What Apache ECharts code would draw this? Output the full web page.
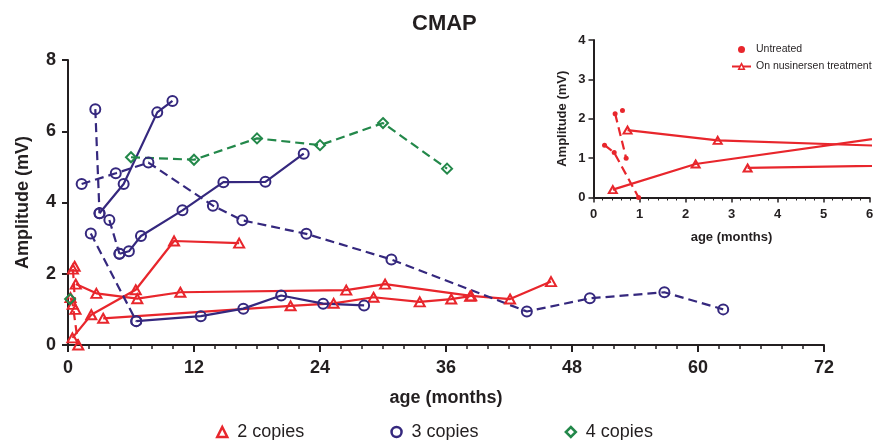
<!DOCTYPE html>
<html>
<head>
<meta charset="utf-8">
<script src="https://cdn.jsdelivr.net/npm/echarts@6/dist/echarts.min.js"></script>
<style>
html, body { margin: 0; padding: 0; background: #fff; }
#chart { width: 874px; height: 440px; }
</style>
</head>
<body>
<div id="chart"></div>
<script>
// [age (months), CMAP amplitude (mV)] - one array per patient, untreated and treated parts apart
const twoCopiesUntreated = [
  [[0.24, 1.33], [0.45, 1.14], [0.98, 0]],
  [[0.47, 2.13], [0.71, 1.0]],
  [[0.63, 2.21]]
]
const twoCopiesTreated = [
  [[0.42, 0.2], [2.22, 0.85], [6.45, 1.55], [10.1, 2.92], [16.3, 2.86]],
  [[0.74, 1.71], [2.7, 1.45], [6.6, 1.3], [10.7, 1.48], [26.5, 1.54], [30.2, 1.71], [38.4, 1.38], [42.1, 1.29], [46.0, 1.78]],
  [[3.35, 0.75], [21.2, 1.1], [25.3, 1.17], [29.1, 1.34], [33.5, 1.21], [36.5, 1.29], [38.3, 1.37]]
]
const threeCopiesUntreated = [
  [[2.6, 6.62], [3.0, 3.7]],
  [[1.3, 4.52], [4.55, 4.82], [7.66, 5.12], [13.8, 3.91], [16.6, 3.5], [22.7, 3.12], [30.8, 2.4], [43.7, 0.94], [49.7, 1.31], [56.8, 1.48], [62.4, 1.0]],
  [[2.17, 3.13], [6.5, 0.67]],
  [[3.94, 3.51], [4.9, 2.56]]
]
const threeCopiesTreated = [
  [[3.0, 3.7], [5.3, 4.52], [8.5, 6.53], [9.95, 6.85]],
  [[6.5, 0.67], [12.65, 0.81], [16.7, 1.02], [20.3, 1.39], [24.3, 1.16], [28.2, 1.11]],
  [[4.9, 2.56], [5.8, 2.63], [6.95, 3.06], [10.9, 3.78], [14.8, 4.57], [18.8, 4.58], [22.45, 5.37]]
]
const fourCopiesUntreated = [
  [[0.2, 1.29]],
  [[6.0, 5.27], [12.0, 5.2], [18.0, 5.8], [24.0, 5.61], [30.0, 6.23], [36.1, 4.95]]
]
const copyNames = ['2 copies', '3 copies', '4 copies']
const insetNames = ['Untreated', 'On nusinersen treatment']

const RED = '#e8262c'
const PURPLE = '#35287e'
const GREEN = '#23884a'
const INK = '#231f20'
const FONT = 'Liberation Sans, Arial, sans-serif'

function makeLine (name, data, color, symbol, size, dashed, idx, fill) {
  return {
    type: 'line',
    name: name,
    data: data,
    xAxisIndex: idx,
    yAxisIndex: idx,
    symbol: symbol,
    symbolSize: size,
    showSymbol: true,
    lineStyle: { color: color, width: 2.2, type: dashed ? [9, 5] : 'solid' },
    itemStyle: { color: fill || 'transparent', borderColor: color, borderWidth: fill ? 0 : 2 },
    emphasis: { disabled: true },
    z: 3
  }
}

const series = []
twoCopiesUntreated.forEach(d => series.push(makeLine(copyNames[0], d, RED, 'triangle', [10, 9], true, 0)))
twoCopiesTreated.forEach(d => series.push(makeLine(copyNames[0], d, RED, 'triangle', [10, 9], false, 0)))
threeCopiesUntreated.forEach(d => series.push(makeLine(copyNames[1], d, PURPLE, 'circle', 10, true, 0)))
threeCopiesTreated.forEach(d => series.push(makeLine(copyNames[1], d, PURPLE, 'circle', 10, false, 0)))
fourCopiesUntreated.forEach(d => series.push(makeLine(copyNames[2], d, GREEN, 'diamond', 10, true, 0)))
// inset: the 2 copies patients over the first 6 months
twoCopiesUntreated.forEach(d => series.push(makeLine(insetNames[0], d, RED, 'circle', 5, true, 1, RED)))
twoCopiesTreated.forEach(d => series.push(makeLine(insetNames[1], d, RED, 'triangle', [8, 7], false, 1)))

const axisLine = { show: true, lineStyle: { color: INK, width: 2 } }
const bigLabel = { color: INK, fontSize: 18, fontWeight: 'bold', fontFamily: FONT }
const smallLabel = { color: INK, fontSize: 13, fontWeight: 'bold', fontFamily: FONT }

const chart = echarts.init(document.getElementById('chart'))
chart.setOption({
  animation: false,
  backgroundColor: '#fff',
  title: {
    text: 'CMAP',
    left: 412,
    top: 13,
    padding: 0,
    textStyle: { color: INK, fontSize: 22, fontWeight: 'bold', fontFamily: FONT }
  },
  legend: [
    {
      data: [
        { name: copyNames[0], icon: 'triangle', itemStyle: { color: '#fff', borderColor: RED, borderWidth: 2.5 } },
        { name: copyNames[1], icon: 'circle', itemStyle: { color: '#fff', borderColor: PURPLE, borderWidth: 2.5 } },
        { name: copyNames[2], icon: 'diamond', itemStyle: { color: '#fff', borderColor: GREEN, borderWidth: 2.5 } }
      ],
      left: 216,
      top: 423,
      padding: 0,
      itemWidth: 10,
      itemHeight: 10,
      itemGap: 86,
      selectedMode: false,
      textStyle: { color: INK, fontSize: 18, fontFamily: FONT, padding: [0, 0, 0, 5] }
    },
    {
      data: [
        { name: insetNames[0], icon: 'circle', itemStyle: { color: RED, borderWidth: 0 } },
        { name: insetNames[1], itemStyle: { color: '#fff', borderColor: RED, borderWidth: 1.5 } }
      ],
      orient: 'vertical',
      left: 731,
      top: 44,
      padding: 0,
      itemWidth: 19,
      itemHeight: 7,
      itemGap: 6,
      selectedMode: false,
      textStyle: { color: INK, fontSize: 10.5, fontFamily: FONT }
    }
  ],
  grid: [
    { left: 68, right: 50, top: 60, bottom: 95, outerBoundsMode: 'none' },
    { left: 593.5, right: 4.5, top: 40, bottom: 242.5, outerBoundsMode: 'none' }
  ],
  xAxis: [
    {
      type: 'value', gridIndex: 0, min: 0, max: 72, interval: 12,
      name: 'age (months)', nameLocation: 'middle', nameGap: 44,
      nameTextStyle: bigLabel,
      axisLine: axisLine,
      axisTick: { show: true, length: 7, lineStyle: { color: INK, width: 2 } },
      minorTick: { show: true, splitNumber: 6, length: 4, lineStyle: { color: INK, width: 1.5 } },
      axisLabel: Object.assign({ margin: 14 }, bigLabel),
      splitLine: { show: false }
    },
    {
      type: 'value', gridIndex: 1, min: 0, max: 6, interval: 1,
      name: 'age (months)', nameLocation: 'middle', nameGap: 33,
      nameTextStyle: smallLabel,
      axisLine: axisLine,
      axisTick: { show: true, length: 5, lineStyle: { color: INK, width: 1.5 } },
      minorTick: { show: true, splitNumber: 5, length: 3, lineStyle: { color: INK, width: 1 } },
      axisLabel: Object.assign({ margin: 10 }, smallLabel),
      splitLine: { show: false }
    }
  ],
  yAxis: [
    {
      type: 'value', gridIndex: 0, min: 0, max: 8, interval: 2,
      name: 'Amplitude (mV)', nameLocation: 'middle', nameGap: 36,
      nameTextStyle: bigLabel,
      axisLine: axisLine,
      axisTick: { show: true, length: 6, lineStyle: { color: INK, width: 2 } },
      axisLabel: Object.assign({ margin: 12 }, bigLabel),
      splitLine: { show: false }
    },
    {
      type: 'value', gridIndex: 1, min: 0, max: 4, interval: 1,
      name: 'Amplitude (mV)', nameLocation: 'middle', nameGap: 25,
      nameTextStyle: smallLabel,
      axisLine: axisLine,
      axisTick: { show: true, length: 5, lineStyle: { color: INK, width: 1.5 } },
      axisLabel: Object.assign({ margin: 8 }, smallLabel),
      splitLine: { show: false }
    }
  ],
  series: series
})
</script>
</body>
</html>
